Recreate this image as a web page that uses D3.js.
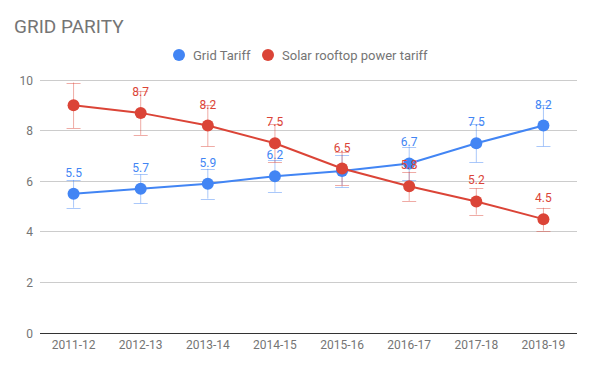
<!DOCTYPE html>
<html><head><meta charset="utf-8">
<script src="https://cdn.jsdelivr.net/npm/d3@7"></script>
<style>body{margin:0;background:#fff;font-family:Roboto,Arial,sans-serif;}</style>
</head><body><svg id="c" width="592" height="368"></svg>
<script>
const categories = ["2011-12","2012-13","2013-14","2014-15","2015-16","2016-17","2017-18","2018-19"];
const gridTariff = [5.5,5.7,5.9,6.2,6.4,6.7,7.5,8.2];
const solarTariff = [9.0,8.7,8.2,7.5,6.5,5.8,5.2,4.5];
const gridErr = [0.55,0.57,0.59,0.62,0.64,0.67,0.75,0.82];
const solarErr = [0.9,0.87,0.82,0.75,0.65,0.58,0.52,0.45];
const gridLabels = ["5.5","5.7","5.9","6.2",null,"6.7","7.5","8.2"];
const solarLabels = [null,"8.7","8.2","7.5","6.5","5.8","5.2","4.5"];
const yTicks = [0,2,4,6,8,10];
const seriesNames = ["Grid Tariff","Solar rooftop power tariff"];
const colors = ["#4285F4","#DB4437"];

const svg = d3.select("#c");
const x = d3.scaleBand().domain(categories).range([40,577]);
const y = d3.scaleLinear().domain([0,10]).range([333,80]);
const cx = d => x(d) + x.bandwidth()/2;

svg.append("text").attr("x",14).attr("y",33).attr("font-size",19).attr("fill","#757575").text("GRID PARITY");

// legend
const lg = [{x:179},{x:268}];
seriesNames.forEach((n,i)=>{
  svg.append("circle").attr("cx",lg[i].x).attr("cy",55).attr("r",6).attr("fill",colors[i]);
  svg.append("text").attr("x",lg[i].x+14).attr("y",59.5).attr("font-size",13).attr("fill","#757575").text(n);
});

// grid
const ya = svg.append("g");
yTicks.forEach(t=>{
  ya.append("line").attr("x1",40).attr("x2",577).attr("y1",y(t)).attr("y2",y(t))
    .attr("stroke", t===0?"#333":"#ccc").attr("stroke-width",1).attr("shape-rendering","crispEdges");
  ya.append("text").attr("x",33).attr("y",y(t)+4.5).attr("text-anchor","end").attr("font-size",12).attr("fill","#757575").text(t);
});
categories.forEach(c=>{
  svg.append("text").attr("x",cx(c)).attr("y",349).attr("text-anchor","middle").attr("font-size",12).attr("fill","#757575").text(c);
});

const series = [
  {vals:gridTariff, err:gridErr, labels:gridLabels, color:colors[0]},
  {vals:solarTariff, err:solarErr, labels:solarLabels, color:colors[1]}
];
const line = d3.line().x((d,i)=>cx(categories[i])).y(d=>y(d));
series.forEach(s=>{
  const g = svg.append("g");
  s.vals.forEach((v,i)=>{
    const xx = cx(categories[i]);
    const e = s.err[i];
    g.append("line").attr("x1",xx).attr("x2",xx).attr("y1",y(v+e)).attr("y2",y(v-e)).attr("stroke",s.color).attr("stroke-opacity",0.45);
    [v+e,v-e].forEach(w=>g.append("line").attr("x1",xx-7).attr("x2",xx+7).attr("y1",Math.round(y(w))+0.5).attr("y2",Math.round(y(w))+0.5).attr("stroke",s.color).attr("stroke-opacity",0.45));
  });
});
series.forEach(s=>{
  const g = svg.append("g");
  g.append("path").attr("d",line(s.vals)).attr("fill","none").attr("stroke",s.color).attr("stroke-width",2);
  s.vals.forEach((v,i)=>{
    g.append("circle").attr("cx",cx(categories[i])).attr("cy",y(v)).attr("r",6).attr("fill",s.color);
  });
});
series.forEach(s=>{
  s.vals.forEach((v,i)=>{
    if(!s.labels[i]) return;
    svg.append("text").attr("x",cx(categories[i])).attr("y",y(v)-17).attr("text-anchor","middle")
      .attr("font-size",12).attr("fill",s.color).text(s.labels[i]);
  });
});
</script></body></html>
